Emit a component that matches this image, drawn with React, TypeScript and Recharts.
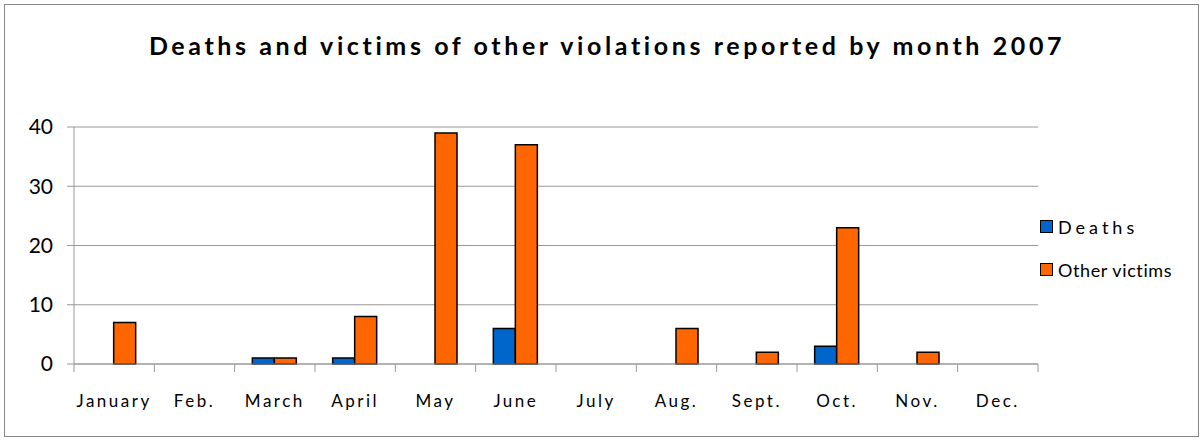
import { Bar, BarChart, CartesianGrid, Legend, XAxis, YAxis } from "recharts";

const months = ["January", "Feb.", "March", "April", "May", "June", "July", "Aug.", "Sept.", "Oct.", "Nov.", "Dec."];
const deaths = [0, 0, 1, 1, 0, 6, 0, 0, 0, 3, 0, 0];
const otherVictims = [7, 0, 1, 8, 39, 37, 0, 6, 2, 23, 2, 0];
const yTicks = [0, 10, 20, 30, 40];

const BLUE = "#0066CC";
const ORANGE = "#FF6600";
const FONT = "Lato, 'Open Sans', sans-serif";

const W = 1202;
const H = 440;
const PLOT_LEFT = 74;
const PLOT_RIGHT = 1038;
const LEGEND_W = 160;
const BAND = (PLOT_RIGHT - PLOT_LEFT) / months.length;

const data = months.map((month, i) => ({
  month,
  deaths: deaths[i],
  other: otherVictims[i],
}));

// Excel-style category ticks sit between categories, not under them.
function MonthTick(props: any) {
  const { x, y, payload, index } = props;
  const left = x - BAND / 2;
  return (
    <g>
      <line x1={left} y1={y - 8} x2={left} y2={y} stroke="#999" />
      {index === months.length - 1 && (
        <line x1={x + BAND / 2} y1={y - 8} x2={x + BAND / 2} y2={y} stroke="#999" />
      )}
      <text
        x={x}
        y={y + 35}
        textAnchor="middle"
        fontSize={17}
        fill="#000"
        style={{ letterSpacing: "2.5px", fontFamily: FONT }}
      >
        {payload.value}
      </text>
    </g>
  );
}

function LegendBox() {
  const items = [
    { label: "Deaths", color: BLUE, spacing: "4px" },
    { label: "Other victims", color: ORANGE, spacing: "0.6px" },
  ];
  return (
    <div style={{ fontFamily: FONT, fontSize: 18 }}>
      {items.map((it) => (
        <div key={it.label} style={{ display: "flex", alignItems: "center", height: 43 }}>
          <span
            style={{
              width: 11,
              height: 11,
              background: it.color,
              border: "1.5px solid #000",
              marginRight: 5,
            }}
          />
          <span style={{ letterSpacing: it.spacing }}>{it.label}</span>
        </div>
      ))}
    </div>
  );
}

export default function App() {
  return (
    <div style={{ position: "absolute", left: 0, top: 0, width: W, height: H, background: "#fff" }}>
      <div
        style={{
          position: "absolute",
          left: 4,
          top: 4,
          width: 1193,
          height: 431,
          border: "1px solid #888",
        }}
      />
      <div
        style={{
          position: "absolute",
          left: 0,
          top: 30,
          width: 1214,
          textAlign: "center",
          fontFamily: FONT,
          fontWeight: 700,
          fontSize: 25,
          letterSpacing: "3.6px",
          color: "#000",
        }}
      >
        Deaths and victims of other violations reported by month 2007
      </div>
      <BarChart
        width={W}
        height={H}
        data={data}
        margin={{ top: 127, right: W - PLOT_RIGHT - LEGEND_W, bottom: 36, left: 0 }}
        barGap={0}
        barCategoryGap="22%"
      >
        <CartesianGrid vertical={false} stroke="#999" />
        <XAxis
          dataKey="month"
          height={40}
          axisLine={{ stroke: "#999" }}
          tickLine={false}
          tick={<MonthTick />}
          interval={0}
        />
        <YAxis
          width={PLOT_LEFT}
          domain={[0, 40]}
          ticks={yTicks}
          axisLine={{ stroke: "#999" }}
          tickLine={{ stroke: "#999" }}
          tickSize={7}
          tick={{ fontSize: 21, fill: "#000", fontFamily: FONT, dx: -12 }}
        />
        <Legend
          layout="vertical"
          align="right"
          verticalAlign="top"
          content={<LegendBox />}
          wrapperStyle={{ left: 1040, top: 205, width: LEGEND_W }}
        />
        <Bar dataKey="deaths" name="Deaths" fill={BLUE} stroke="#000" strokeWidth={1.5} isAnimationActive={false} />
        <Bar dataKey="other" name="Other victims" fill={ORANGE} stroke="#000" strokeWidth={1.5} isAnimationActive={false} />
      </BarChart>
    </div>
  );
}
